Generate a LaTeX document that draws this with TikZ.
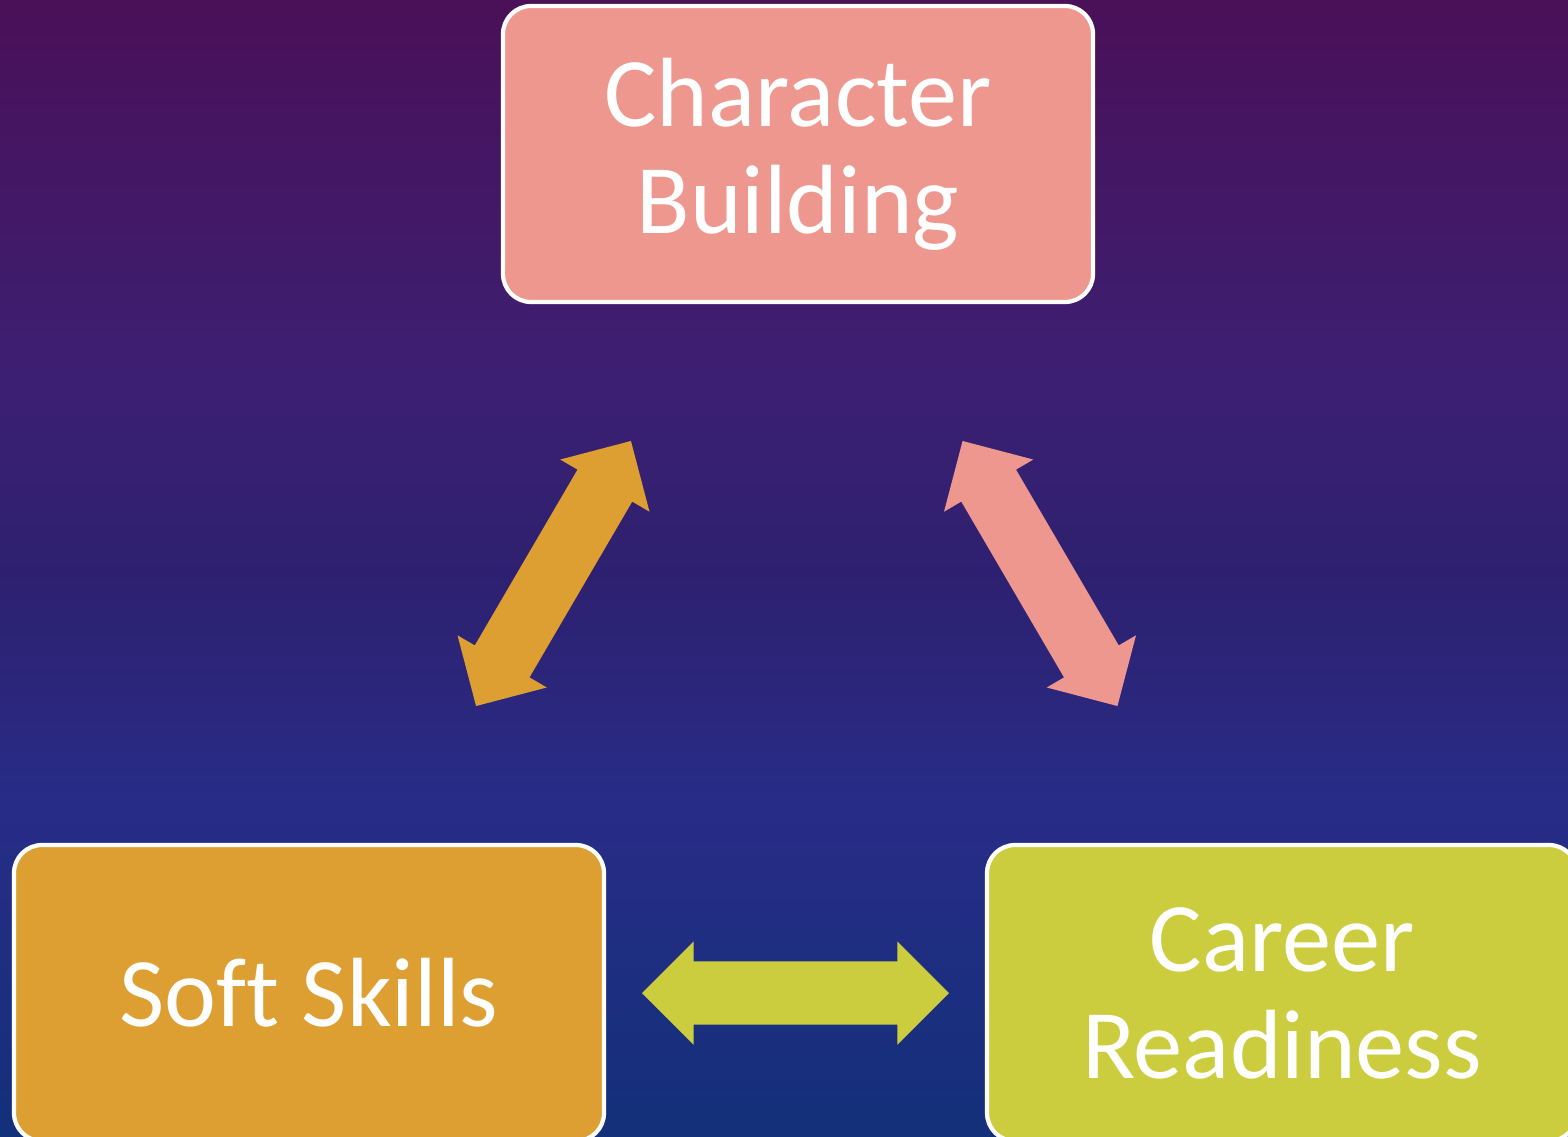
\documentclass[tikz,border=0pt]{standalone}
\usepackage{fontspec}
\setmainfont{Carlito}[Ligatures=NoCommon]
\usepackage{tikz}
\usetikzlibrary{shapes.arrows,calc,positioning}

\definecolor{skypurple}{HTML}{4A1058}
\definecolor{skylilac}{HTML}{3D1F72}
\definecolor{skyviolet}{HTML}{2E2070}
\definecolor{skyindigo}{HTML}{282C86}
\definecolor{skyblue}{HTML}{13307A}
\definecolor{boxpink}{HTML}{EE978F}
\definecolor{boxorange}{HTML}{DD9E32}
\definecolor{boxlime}{HTML}{CBCD3F}

% purple at the top fading into blue at the bottom
\pgfdeclareverticalshading{nightsky}{100bp}{color(0bp)=(skyblue); color(25bp)=(skyblue);
	color(39.8bp)=(skyindigo); color(49.9bp)=(skyviolet); color(58.7bp)=(skylilac);
	color(75bp)=(skypurple); color(100bp)=(skypurple)}

\begin{document}
\begin{tikzpicture}[node distance=9.73cm,
	main node/.style={rectangle,rounded corners=0.28cm,draw=white,line width=1.2pt,
		minimum width=5.9cm,minimum height=2.96cm,align=center,text=white,
		font=\fontsize{28}{30.4}\selectfont},
	link arrow/.style={double arrow,double arrow head extend=0.2cm,
		minimum height=3.07cm,inner xsep=0pt,inner ysep=0.31cm}]
	
	% night sky behind everything
	\useasboundingbox (0,0) rectangle (15.68,11.36);
	\clip (0,0) rectangle (15.68,11.36);
	\shade[shading=nightsky] (0,0) rectangle (15.68,11.36);
	
	\node[main node,fill=boxpink] (1) at (7.98,9.82) {Character\\Building};
	\node[main node,fill=boxorange] (2) at (3.09,1.43) {Soft Skills};
	\node[main node,fill=boxlime] (3) [right of=2] {Career\\Readiness};
	
	% two-way arrows halfway between the boxes
	\node[link arrow,fill=boxorange,rotate=59.7] (12) at ($(1)!0.5!(2)$) {};
	\node[link arrow,fill=boxpink,rotate=-59.7] (13) at ($(1)!0.5!(3)$) {};
	\node[link arrow,fill=boxlime] (23) at ($(2)!0.5!(3)$) {};
	
\end{tikzpicture}
\end{document}
